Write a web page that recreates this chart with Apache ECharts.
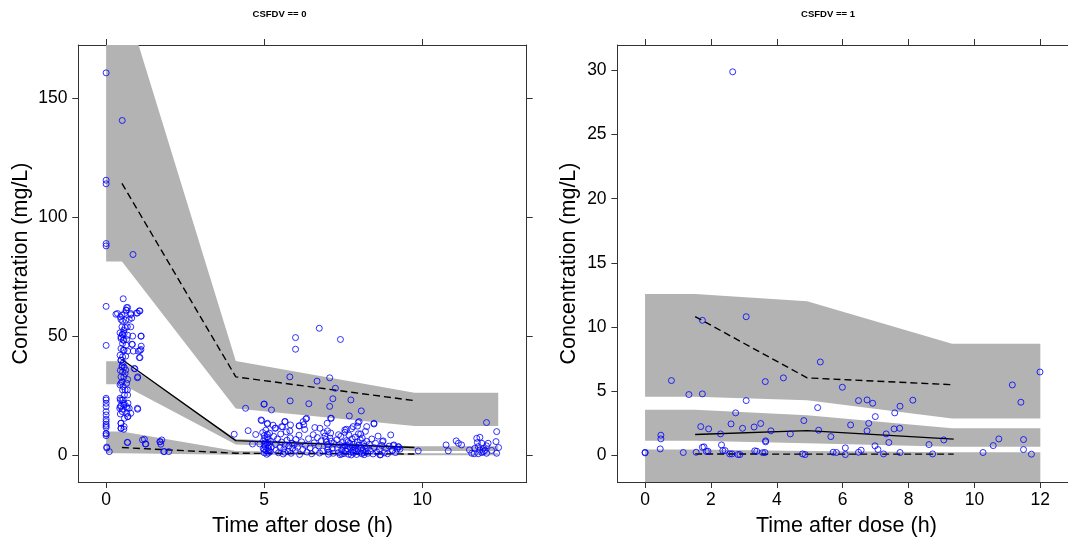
<!DOCTYPE html>
<html>
<head>
<meta charset="utf-8">
<script src="https://cdn.jsdelivr.net/npm/echarts@6/dist/echarts.min.js"></script>
<style>
html,body{margin:0;padding:0;background:#fff;}
#chart{width:1068px;height:539px;}
</style>
</head>
<body>
<div id="chart"></div>
<script>
// ---------- Panel titles / axis texts ----------
const panelTitles = ['CSFDV == 0', 'CSFDV == 1'];
const xTitle = 'Time after dose (h)';
const yTitle = 'Concentration (mg/L)';

// ---------- Tick labels ----------
const leftXTicks = [0, 5, 10];
const leftYTicks = [0, 50, 100, 150];
const rightXTicks = [0, 2, 4, 6, 8, 10, 12];
const rightYTicks = [0, 5, 10, 15, 20, 25, 30];

// ---------- Left panel (CSFDV == 0): VPC bands & observed percentiles ----------
const leftBandX = [0, 0.5, 4.1, 9.75, 12.4];
const leftUpperLo = [81.4, 81.4, 19.6, 12.3, 12.3];
const leftUpperHi = [195, 195, 39.6, 26.2, 26.2];
const leftMidLo = [29.8, 29.8, 4.5, 1.8, 1.8];
const leftMidHi = [39.5, 39.5, 6.8, 3.7, 3.7];
const leftLowLo = [0.8, 0.8, 0.2, 0.0, 0.0];
const leftLowHi = [9.9, 9.9, 1.8, 0.8, 0.8];

const leftLineX = [0.5, 4.1, 9.75];
const leftObsP95 = [114.2, 32.9, 22.9];
const leftObsP50 = [40.2, 6.1, 3.2];
const leftObsP05 = [3.2, 0.8, 0.5];

// ---------- Right panel (CSFDV == 1) ----------
const rightBandX = [0, 1.52, 4.92, 9.32, 12];
const rightUpperLo = [4.55, 4.55, 4.29, 2.86, 2.86];
const rightUpperHi = [12.58, 12.58, 12.0, 8.7, 8.7];
const rightMidLo = [1.12, 1.12, 0.93, 0.65, 0.65];
const rightMidHi = [3.54, 3.54, 3.12, 2.1, 2.1];
const rightLowLo = [-4, -4, -4, -4, -4];
const rightLowHi = [0.44, 0.44, 0.32, 0.23, 0.23];

const rightLineX = [1.52, 4.92, 9.37];
const rightObsP95 = [10.81, 6.03, 5.49];
const rightObsP50 = [1.61, 1.92, 1.25];
const rightObsP05 = [0.1, 0.08, 0.08];

// ---------- Observed points, left panel ----------
const leftObs = [
 [0,160.6],[0,115.5],[0,114.0],[0,88.9],[0,87.9],[0,62.5],[0,46.1],[0,23.9],[0,23.2],[0,21.8],[0,20.4],[0,18.3],
 [0,16.9],[0,15.1],[0,14.1],[0,13.0],[0,12.3],[0,11.6],[0,9.2],[0,8.9],[0,8.2],[0.02,3.4],[0.02,3.0],[0.1,1.5],
 [0.51,140.6],[0.85,84.3],
 [0.54,65.7],[0.36,59.5],[0.5,58.8],[0.68,62.0],[0.63,60.9],[0.78,59.5],[0.99,59.7],[1.07,60.6],[0.47,57.0],[0.52,56.3],
 [0.73,57.0],[0.81,57.6],[0.5,53.9],[0.6,53.6],[0.78,53.9],[0.44,51.4],[0.52,50.8],[0.57,51.1],[0.68,50.4],[0.84,50.0],
 [1.1,50.0],[0.47,49.0],[0.54,48.3],[0.65,48.6],[0.52,46.9],[0.63,46.2],[0.82,46.6],[0.47,44.8],[0.57,44.1],[0.68,43.7],
 [0.86,43.7],[1.02,43.7],[1.1,44.4],[1.07,41.0],[0.44,42.0],[0.52,41.3],[0.47,39.9],[0.54,38.8],[0.5,37.1],[0.57,36.9],
 [0.89,36.4],[0.52,35.0],[0.6,34.3],[0.99,32.5],[0.47,32.9],[0.68,31.8],[0.5,30.8],[0.44,29.5],[0.54,28.8],[0.6,27.4],
 [0.68,25.3],[0.44,23.9],[0.5,23.2],[0.57,21.8],[0.47,20.7],[0.65,20.4],[0.73,19.7],[0.52,19.3],[0.78,17.6],[0.68,16.2],
 [0.99,19.7],[0.47,13.4],[0.57,12.0],[0.47,11.3],[0.68,5.3],[1.26,4.7],[1.21,6.7],[1.7,5.7],[1.73,4.6],[1.84,1.5],
 [0.31,59.2],[0.45,58.1],[0.58,59.5],[0.64,60.9],[0.65,62.0],[0.78,59.0],[0.96,59.7],[1.05,60.6],[0.62,56.7],[1.11,50.0],
 [0.83,46.5],[1.11,45.8],[1.07,44.0],[1.05,41.0],[0.51,50.7],[0.47,49.7],[0.56,48.3],[0.54,44.1],[0.62,41.6],[0.47,39.9],
 [0.51,37.8],[0.45,35.6],[0.56,32.9],[0.47,30.2],[0.52,27.4],[0.58,25.3],[0.54,23.2],[0.45,20.4],[0.51,18.3],[0.65,17.6],
 [0.69,16.2],[0.58,15.5],[0.47,13.4],[0.56,10.9],[1.0,32.9],[0.91,36.3],[1.0,19.3],[0.67,19.7],[0.69,21.8],[0.56,21.1],
 [0.43,19.7],[0.45,17.3],[0.62,35.7],[0.65,30.2],[0.67,27.4],[0.47,11.3],[0.45,23.2],[0.56,52.5],[0.67,53.9],
 [1.15,6.4],[1.24,4.7],[1.71,5.6],[1.76,6.4],[1.82,1.5],[1.98,1.5],[0.67,5.4],
 [4.41,19.7],[4.99,21.4],[4.05,8.8],[4.49,10.3],[4.73,8.7],[4.92,14.5],[5.1,13.1],[4.63,4.7],[4.86,4.7],
 [6.74,53.3],[5.99,49.4],[7.41,48.6],[5.99,44.5],[5.81,32.9],[6.67,31.1],[7.07,32.5],[7.25,28.1],[5.0,21.5],[5.23,19.0],
 [5.82,22.8],[6.41,21.6],[7.17,23.7],[7.07,20.5],[7.74,23.2],[8.07,18.6],[7.69,16.5],[7.12,15.5],[8.47,13.4],[8.0,14.1],
 [4.9,14.8],[5.1,13.4],[6.32,15.2],[6.23,14.1],[6.11,12.3],[6.99,13.4],[5.65,14.1],[5.36,11.4],[5.81,10.2],[6.76,11.3],
 [7.55,10.6],[7.81,12.0],[5.34,11.3],[5.55,12.0],[5.66,14.1],[5.83,12.7],[6.1,12.3],[6.34,15.5],[7.1,15.5],[7.97,13.7],
 [8.24,12.0],[8.47,13.1],
 [4.95,9.5],[5.0,8.2],[5.02,7.0],[4.98,6.1],[5.05,5.3],[5.0,4.4],[5.03,3.6],[4.97,2.7],[5.06,1.9],[5.0,1.0],[5.08,0.4],
 [5.1,7.6],[5.12,6.5],[5.1,5.0],[5.14,4.0],[5.12,3.0],[5.15,2.2],[5.1,8.8],[5.18,1.4],[5.2,5.8],[5.05,10.5],[5.17,9.2],
 [5.0,2.4],[5.13,0.9],[5.22,3.5],
 [5.3,7.9],[5.35,4.6],[5.38,2.1],[5.42,6.8],[5.45,1.0],[5.5,3.2],[5.52,8.9],[5.55,5.5],[5.6,0.5],[5.62,2.6],[5.66,4.2],
 [5.7,9.8],[5.72,6.3],[5.75,1.6],[5.78,3.8],[5.82,7.3],[5.85,0.8],[5.88,5.0],[5.9,2.9],[5.95,4.5],[5.98,1.9],[6.0,6.6],
 [5.58,11.9],[5.28,12.6],[5.65,1.2],
 [6.05,3.3],[6.1,8.4],[6.12,0.3],[6.18,5.6],[6.22,2.4],[6.28,10.8],[6.3,4.1],[6.35,1.3],[6.4,6.9],[6.45,3.0],[6.5,0.6],
 [6.55,8.6],[6.58,5.2],[6.62,2.0],[6.68,7.4],[6.72,3.9],[6.75,0.9],[6.8,6.0],[6.85,1.7],[6.88,9.4],[6.6,11.6],[6.25,12.8],
 [6.92,8.0],[6.95,6.6],[6.97,5.5],[7.0,4.5],[7.02,3.4],[7.0,2.3],[7.05,1.3],[7.03,0.4],[7.08,7.2],[7.1,9.3],[7.12,5.9],
 [7.15,2.8],[7.18,0.8],[7.2,4.9],[7.0,10.2],
 [7.3,6.5],[7.32,3.0],[7.35,1.1],[7.38,4.4],[7.4,0.2],[7.42,7.9],[7.45,2.2],[7.48,5.3],[7.5,3.6],[7.52,0.7],[7.55,9.6],
 [7.57,1.8],[7.6,6.1],[7.62,4.0],[7.64,2.7],[7.66,0.4],[7.68,8.4],[7.7,5.0],[7.72,3.2],[7.74,1.4],[7.76,11.1],[7.78,6.9],
 [7.8,2.1],[7.82,0.9],[7.84,4.6],[7.86,3.5],[7.88,7.6],[7.9,1.7],[7.92,0.3],[7.94,5.6],[7.96,2.5],[7.98,9.0],[8.0,4.2],
 [8.02,1.2],[8.04,6.4],[8.06,3.0],[8.08,0.6],[8.1,7.2],[8.12,2.0],[8.14,4.9],[8.16,0.2],[8.18,3.7],[8.2,10.0],[8.22,1.5],
 [8.24,5.8],[8.26,2.8],[8.28,0.8],[7.95,12.2],[7.6,10.9],[8.05,8.9],[7.75,0.1],[7.85,2.3],[7.65,5.6],[8.15,1.0],[7.45,0.5],
 [7.55,3.9],[7.35,8.6],
 [8.32,4.5],[8.36,1.8],[8.4,6.8],[8.44,0.5],[8.48,3.1],[8.52,5.0],[8.56,1.3],[8.6,8.0],[8.64,2.6],[8.68,0.2],[8.72,4.1],
 [8.76,6.0],[8.8,1.0],[8.85,2.9],[8.9,0.6],[8.95,3.8],[9.0,8.5],[9.05,2.0],[9.1,4.3],[9.15,1.1],[9.2,2.5],[9.25,3.4],
 [8.74,5.7],[8.66,0.1],[9.08,4.0],[9.24,3.6],[9.06,2.0],[9.29,2.5],
 [9.87,1.8],[10.75,4.3],[10.82,1.8],[11.07,6.0],[11.14,5.0],[11.24,4.3],[11.49,2.2],[11.56,0.8],[11.72,7.1],[11.82,7.5],
 [11.74,5.3],[11.88,5.0],[11.66,2.9],[11.77,3.6],[11.82,2.2],[11.93,2.9],[11.98,2.0],[12.03,3.9],[12.08,5.0],[11.88,1.1],
 [11.77,0.6],[12.03,0.8],[12.19,2.0],[12.03,13.7],[12.35,9.9],[12.33,5.7],[12.41,3.2],[12.35,0.8],[11.93,1.5],[11.64,0.6]
];

// ---------- Observed points, right panel ----------
const rightObs = [
 [0,0.18],[0,0.22],[0.48,1.56],[0.48,1.27],[0.46,0.49],[0.8,5.82],[1.16,0.21],[1.33,4.73],[1.55,0.23],[1.74,10.52],
 [1.74,4.78],[1.69,2.23],[1.74,0.62],[1.86,0.29],[1.93,2.05],[2.29,1.66],[2.32,0.8],[2.36,0.36],[2.57,0.1],[2.61,2.44],
 [2.75,3.3],[2.82,0.05],[2.96,2.1],[3.07,10.8],[3.07,4.26],[3.31,2.2],[3.33,0.34],[3.51,2.47],[3.57,0.2],[3.65,5.74],
 [3.66,1.12],[3.66,1.04],[3.82,1.9],[4.2,6.03],[4.41,1.66],[4.78,0.1],[4.82,2.7],[5.24,3.71],[5.27,1.95],[5.32,7.27],
 [5.64,1.45],[5.71,0.23],[5.99,5.3],[6.08,0.57],[6.08,0.05],[6.24,2.36],[6.48,4.26],[6.48,0.23],[6.56,0.39],[6.74,4.31],
 [6.74,1.9],[6.79,2.49],[6.91,4.05],[6.99,3.01],[6.98,0.73],[7.07,0.44],[7.24,0.1],[7.32,1.66],[7.4,0.99],[7.58,3.3],
 [7.56,2.05],[7.73,2.1],[7.74,3.82],[7.74,0.21],[8.13,4.29],[8.62,0.83],[8.73,0.1],[9.07,1.19],[10.26,0.21],[10.57,0.75],
 [10.74,1.27],[11.15,5.48],[11.41,4.13],[11.49,1.22],[11.49,0.44],[11.73,0.08],[11.99,6.49],[2.66,29.9],
 [1.79,0.65],[1.91,0.31],[2.43,0.36],[2.64,0.1],[2.88,0.05],[3.39,0.31],[3.64,0.21],[4.86,0.05],[5.81,0.21]
];

// ---------- Rendering ----------
const chart = echarts.init(document.getElementById('chart'));
const FONT = 'Liberation Sans, Arial, sans-serif';
const AXIS_COLOR = '#333333';
const BAND_COLOR = '#b3b3b3';

function bandSeries(xi, yi, xs, lo, hi) {
  return {
    type: 'custom', xAxisIndex: xi, yAxisIndex: yi, clip: true, silent: true, z: 1,
    data: [[xs[0], lo[0]]],
    renderItem: function (params, api) {
      const pts = [];
      for (let i = 0; i < xs.length; i++) pts.push(api.coord([xs[i], hi[i]]));
      for (let i = xs.length - 1; i >= 0; i--) pts.push(api.coord([xs[i], lo[i]]));
      return { type: 'polygon', shape: { points: pts }, style: { fill: BAND_COLOR, stroke: null } };
    }
  };
}
function lineSeries(xi, yi, xs, ys, dashed) {
  return {
    type: 'line', xAxisIndex: xi, yAxisIndex: yi, symbol: 'none', silent: true, z: 3,
    data: xs.map((x, i) => [x, ys[i]]),
    lineStyle: { color: '#000', width: 1.4, type: dashed ? [7, 4] : 'solid' },
    animation: false
  };
}
function pointSeries(xi, yi, pts) {
  return {
    type: 'scatter', xAxisIndex: xi, yAxisIndex: yi, symbol: 'circle', symbolSize: 6, z: 4,
    data: pts, silent: true,
    itemStyle: { color: 'rgba(0,0,0,0)', borderColor: '#0000ff', borderWidth: 1 }
  };
}
function valAxis(base, ticks, showLabel, extra) {
  return Object.assign({
    type: 'value', scale: false,
    axisLine: { show: true, onZero: false, lineStyle: { color: AXIS_COLOR, width: 1 } },
    axisTick: { show: true, inside: false, length: 6, customValues: ticks, lineStyle: { color: AXIS_COLOR } },
    axisLabel: { show: showLabel, customValues: ticks, color: '#000', fontSize: 17.5, fontFamily: FONT },
    splitLine: { show: false }
  }, base, extra || {});
}

const option = {
  animation: false,
  backgroundColor: '#ffffff',
  grid: [
    { left: 78.3, top: 45, width: 448.4, height: 437 },
    { left: 617.4, top: 45, width: 458, height: 437 }
  ],
  xAxis: [
    valAxis({ gridIndex: 0, position: 'bottom', min: -0.88, max: 13.3 }, leftXTicks, true, {}),
    valAxis({ gridIndex: 0, position: 'top', min: -0.88, max: 13.3 }, leftXTicks, false, {}),
    valAxis({ gridIndex: 1, position: 'bottom', min: -0.84, max: 12.84 }, rightXTicks, true, {}),
    valAxis({ gridIndex: 1, position: 'top', min: -0.84, max: 12.84 }, rightXTicks, false, {})
  ],
  yAxis: [
    valAxis({ gridIndex: 0, position: 'left', min: -11.27, max: 172.3 }, leftYTicks, true, {}),
    valAxis({ gridIndex: 0, position: 'right', min: -11.27, max: 172.3 }, leftYTicks, false, {}),
    valAxis({ gridIndex: 1, position: 'left', min: -2.09, max: 31.99 }, rightYTicks, true, {}),
    valAxis({ gridIndex: 1, position: 'right', min: -2.09, max: 31.99 }, rightYTicks, false, {})
  ],
  graphic: [
    { type: 'text', x: 279.5, y: 14, style: { text: panelTitles[0], font: 'bold 9.5px ' + FONT, fill: '#000', align: 'center', verticalAlign: 'middle' } },
    { type: 'text', x: 828, y: 14, style: { text: panelTitles[1], font: 'bold 9.5px ' + FONT, fill: '#000', align: 'center', verticalAlign: 'middle' } },
    { type: 'text', x: 302.5, y: 526, style: { text: xTitle, font: '21.5px ' + FONT, fill: '#000', align: 'center', verticalAlign: 'middle' } },
    { type: 'text', x: 846.4, y: 526, style: { text: xTitle, font: '21.5px ' + FONT, fill: '#000', align: 'center', verticalAlign: 'middle' } },
    { type: 'text', x: 20.7, y: 263.5, rotation: Math.PI / 2, style: { text: yTitle, font: '21.5px ' + FONT, fill: '#000', align: 'center', verticalAlign: 'middle' } },
    { type: 'text', x: 569.5, y: 263.5, rotation: Math.PI / 2, style: { text: yTitle, font: '21.5px ' + FONT, fill: '#000', align: 'center', verticalAlign: 'middle' } }
  ],
  series: [
    bandSeries(0, 0, leftBandX, leftUpperLo, leftUpperHi),
    bandSeries(0, 0, leftBandX, leftMidLo, leftMidHi),
    bandSeries(0, 0, leftBandX, leftLowLo, leftLowHi),
    lineSeries(0, 0, leftLineX, leftObsP95, true),
    lineSeries(0, 0, leftLineX, leftObsP50, false),
    lineSeries(0, 0, leftLineX, leftObsP05, true),
    pointSeries(0, 0, leftObs),
    bandSeries(2, 2, rightBandX, rightUpperLo, rightUpperHi),
    bandSeries(2, 2, rightBandX, rightMidLo, rightMidHi),
    bandSeries(2, 2, rightBandX, rightLowLo, rightLowHi),
    lineSeries(2, 2, rightLineX, rightObsP95, true),
    lineSeries(2, 2, rightLineX, rightObsP50, false),
    lineSeries(2, 2, rightLineX, rightObsP05, true),
    pointSeries(2, 2, rightObs)
  ]
};
// set label margins
option.xAxis[0].axisLabel.margin = 9;
option.xAxis[2].axisLabel.margin = 9;
option.yAxis[0].axisLabel.margin = 10.8;
option.yAxis[2].axisLabel.margin = 10.8;
chart.setOption(option);
</script>
</body>
</html>
